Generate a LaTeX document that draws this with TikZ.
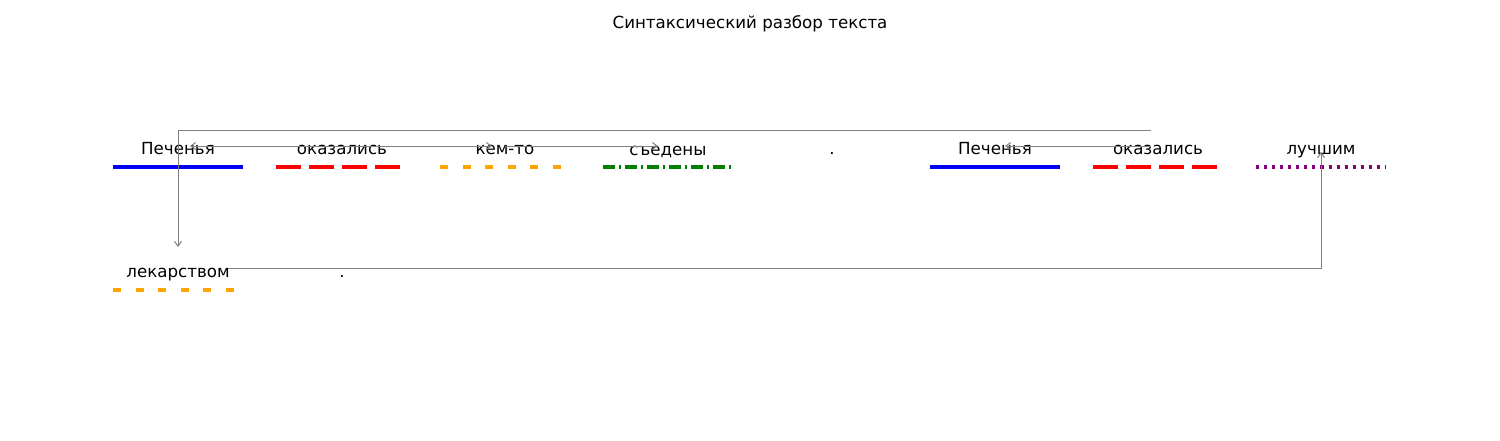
\documentclass[tikz,border=0pt]{standalone}
\usepackage{fontspec}
\setmainfont{DejaVu Sans}
\usetikzlibrary{arrows.meta}
\definecolor{mplorange}{HTML}{FFA500}
\definecolor{mplgreen}{HTML}{008000}
\definecolor{mplpurple}{HTML}{800080}
\definecolor{mplgray}{HTML}{808080}
\begin{document}
\begin{tikzpicture}[x=0.72pt,y=-0.72pt,
  word/.style={inner sep=0pt,anchor=base,font=\fontsize{12}{14}\selectfont},
  ul/.style={line width=2.2pt},
  conn/.style={draw=mplgray,line width=0.72pt},
  tip/.style={-{Straight Barb[length=3.5pt,width=5pt]}}]
\useasboundingbox (0,0) rectangle (1500,440);
\node[word] (title) at (750,28) {Синтаксический разбор текста};
% words row 1
\node[word] (w1) at (178,154) {Печенья};
\node[word] (w2) at (342,154) {оказались};
\node[word] (w3) at (505,154) {кем-то};
\node[word] (w4) at (668,155) {съедены};
\node[word] (w5) at (832,154) {.};
\node[word] (w6) at (995,154) {Печенья};
\node[word] (w7) at (1158,154) {оказались};
\node[word] (w8) at (1321,154) {лучшим};
% row 2
\node[word] (w9) at (178,277) {лекарством};
\node[word] (w10) at (342,277) {.};
% underlines
\draw[ul,blue] (113,167) -- (243,167);
\draw[ul,red,dash pattern=on 18pt off 5.8pt] (276,167) -- (406,167);
\draw[ul,mplorange,dash pattern=on 5.9pt off 10.3pt] (440,167) -- (570,167);
\draw[ul,mplgreen,dash pattern=on 8.6pt off 2.9pt on 1.4pt off 2.9pt] (603,167) -- (733,167);
\draw[ul,blue] (930,167) -- (1060,167);
\draw[ul,red,dash pattern=on 18pt off 5.8pt] (1093,167) -- (1223,167);
\draw[ul,mplpurple,dash pattern=on 2.2pt off 3.6pt] (1256,167) -- (1386,167);
\draw[ul,mplorange,dash pattern=on 5.9pt off 10.3pt] (113,290) -- (243,290);
% connectors
\coordinate (c1) at (1151,130);
\coordinate (c9) at (228,268);
\coordinate (t9) at (178,247);
\coordinate (t8) at (1321,152);
\coordinate (a1) at (190,146);
\coordinate (a2) at (342,146);
\coordinate (a3) at (492,146);
\coordinate (a4) at (505,146);
\coordinate (a5) at (658,146);
\coordinate (b1) at (1005,146);
\coordinate (b2) at (1151,146);
\draw[conn,tip] (c1) -- (c1 -| w1) -- (t9);
\draw[conn,tip] (c9) -| (t8);
\draw[conn,tip] (a2) -- (a1);
\draw[conn,tip] (a2) -- (a3);
\draw[conn,tip] (a4) -- (a5);
\draw[conn,tip] (b2) -- (b1);
\end{tikzpicture}
\end{document}
